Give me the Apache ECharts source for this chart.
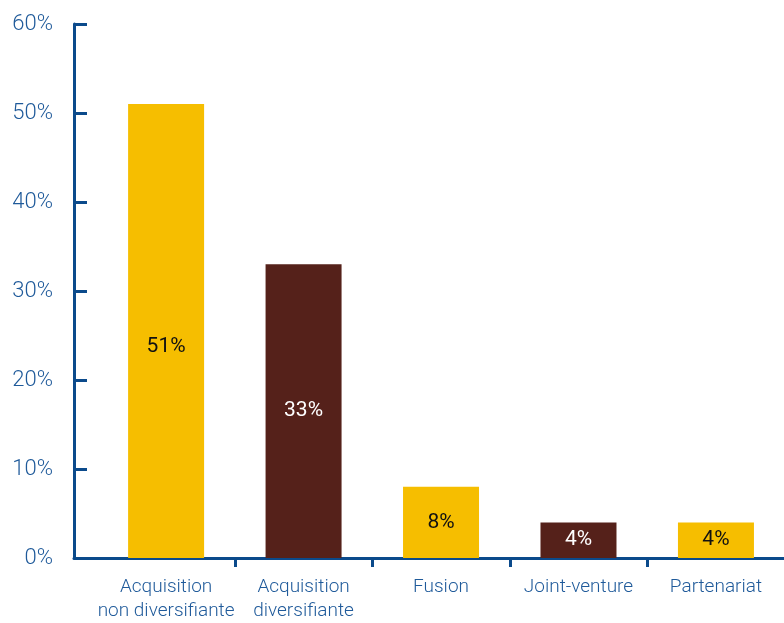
<!DOCTYPE html>
<html>
<head>
<meta charset="utf-8">
<script src="https://cdn.jsdelivr.net/npm/echarts@6/dist/echarts.min.js"></script>
<style>
  html, body { margin: 0; padding: 0; background: #fff; overflow: hidden; }
  #chart { width: 784px; height: 623px; }
</style>
</head>
<body>
<div id="chart"></div>
<script>
// Operation types and their share (%)
const categories = ['Acquisition\nnon diversifiante', 'Acquisition\ndiversifiante', 'Fusion', 'Joint-venture', 'Partenariat'];
const shares = [51, 33, 8, 4, 4];
const barColors = ['#F6BE00', '#55211A', '#F6BE00', '#55211A', '#F6BE00'];
const labelColors = ['#111111', '#ffffff', '#111111', '#ffffff', '#111111'];
const yTicks = [0, 10, 20, 30, 40, 50, 60];

const axisBlue = '#0B4A8B';
const textBlue = '#1F5A9A';

const chart = echarts.init(document.getElementById('chart'));

// Category positions on a numeric x scale so separators sit between bars
const positions = categories.map((_, i) => i);
const separators = positions.slice(0, -1).map(p => p + 0.5);

chart.setOption({
  animation: false,
  grid: { left: 74, right: 0, top: 24, bottom: 62, containLabel: false },
  xAxis: {
    type: 'value',
    min: -0.67,
    max: 4.495,
    splitLine: { show: false },
    axisLine: { show: true, onZero: false, lineStyle: { color: axisBlue, width: 3 } },
    axisTick: {
      show: true,
      customValues: separators,
      length: 9,
      lineStyle: { color: axisBlue, width: 3 }
    },
    axisLabel: {
      customValues: positions,
      formatter: v => categories[Math.round(v)] || '',
      color: textBlue,
      fontFamily: 'Roboto',
      fontWeight: 300,
      fontSize: 19,
      lineHeight: 24,
      margin: 17
    }
  },
  yAxis: {
    type: 'value',
    min: yTicks[0],
    max: yTicks[yTicks.length - 1],
    interval: 10,
    splitLine: { show: false },
    axisLine: { show: true, onZero: false, lineStyle: { color: axisBlue, width: 3 } },
    axisTick: { show: true, inside: true, length: 13, lineStyle: { color: axisBlue, width: 3 } },
    axisLabel: {
      formatter: v => v + '%',
      color: textBlue,
      fontFamily: 'Roboto',
      fontWeight: 300,
      fontSize: 22,
      margin: 21
    }
  },
  series: [{
    type: 'bar',
    barWidth: 76,
    data: shares.map((v, i) => ({
      value: [positions[i], v],
      itemStyle: { color: barColors[i] },
      label: { color: labelColors[i], offset: i === 0 ? [0, 16] : [0, 0] }
    })),
    label: {
      show: true,
      position: 'inside',
      formatter: p => p.value[1] + '%',
      fontFamily: 'Roboto',
      fontSize: 21
    }
  }]
});
</script>
</body>
</html>
